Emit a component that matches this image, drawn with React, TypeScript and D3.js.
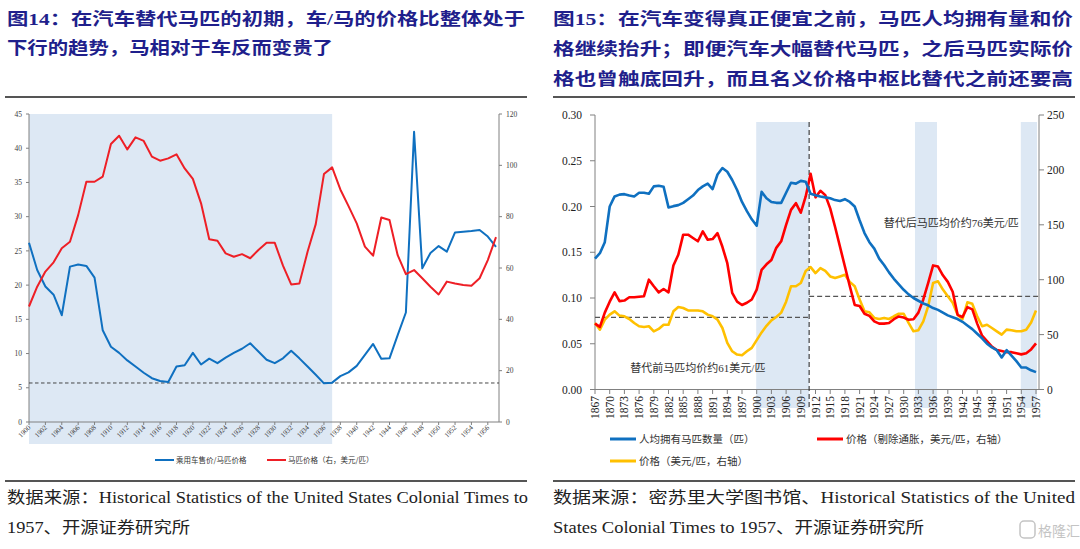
import * as d3 from 'd3'
import { useEffect, useRef } from 'react'

// ---- figure 14: car / horse price ratio, 1900-1957
const carYears = d3.range(1900, 1958)
const carHorseRatio = [
  26.2, 22.2, 19.8, 18.6, 15.6, 22.7, 23.0, 22.8, 21.1, 13.4,
  11.0, 10.1, 9.0, 8.1, 7.2, 6.4, 6.0, 5.85, 8.1, 8.3,
  10.1, 8.4, 9.25, 8.6, 9.4, 10.1, 10.7, 11.5, 10.3, 9.1,
  8.6, 9.3, 10.4, 9.3, 8.1, 6.9, 5.65, 5.75, 6.7, 7.25,
  8.2, 9.8, 11.4, 9.25, 9.3, 12.7, 16.0, 42.4, 22.45, 24.7,
  25.7, 24.9, 27.7, 27.8, 27.9, 28.05, 27.1, 25.6,
]
const horsePrice = [
  45, 52.7, 58.6, 62.2, 67.7, 70.2, 80.6, 93.6, 93.6, 95.6,
  108.3, 111.5, 106.2, 110.9, 109.5, 103.4, 101.8, 102.7, 104.3, 98.8,
  94.7, 85.2, 71.2, 70.6, 65.7, 64.4, 65.4, 63.8, 67, 69.8,
  69.8, 60.9, 53.6, 54, 66.3, 77.1, 96.6, 99.2, 90.6, 84.1,
  77.4, 68.3, 64.8, 79.7, 78.7, 65, 57.6, 59.2, 56, 52.7,
  49.7, 54.7, 54, 53.4, 53.1, 56, 63.1, 72,
]
const carYearTicks = d3.range(1900, 1957, 2)
const ratioTicks = [0, 5, 10, 15, 20, 25, 30, 35, 40, 45]
const horsePriceTicks = [0, 20, 40, 60, 80, 100, 120]
const ratioFloor = 5.7
const carShade = [1900, 1937]
const carLegend = ['乘用车售价/马匹价格', '马匹价格（右，美元/匹）']

// ---- figure 15: horses per capita and horse prices, 1867-1957
const horseYears = d3.range(1867, 1958)
const horsesPerCapita = [
  0.143, 0.149, 0.161, 0.200, 0.211, 0.213, 0.2135, 0.212, 0.211, 0.215,
  0.215, 0.214, 0.222, 0.2226, 0.2216, 0.199, 0.2004, 0.2015, 0.204, 0.208,
  0.212, 0.218, 0.222, 0.225, 0.219, 0.235, 0.242, 0.238, 0.229, 0.218,
  0.205, 0.195, 0.186, 0.179, 0.216, 0.209, 0.205, 0.204, 0.204, 0.215,
  0.226, 0.225, 0.228, 0.227, 0.214, 0.2124, 0.211, 0.210, 0.209, 0.207,
  0.206, 0.208, 0.205, 0.200, 0.185, 0.171, 0.161, 0.154, 0.143, 0.136,
  0.128, 0.121, 0.115, 0.109, 0.104, 0.100, 0.097, 0.094, 0.092, 0.089,
  0.087, 0.084, 0.081, 0.079, 0.077, 0.074, 0.070, 0.066, 0.061, 0.056,
  0.050, 0.046, 0.043, 0.035, 0.043, 0.037, 0.031, 0.024, 0.024, 0.021,
  0.019,
]
const realPrice = [
  60, 57, 70, 80, 88.5, 80.5, 81, 84, 84, 84.5,
  85, 100, 94, 88.5, 91.5, 88.5, 113, 122.7, 141, 141,
  138, 135, 144, 136.4, 137, 142.4, 130, 115, 88, 80,
  77, 79, 82, 91, 109, 114, 118, 129, 135, 150,
  163.6, 169.7, 161, 175.8, 196.4, 175, 181, 177, 165, 148,
  130, 112, 94, 77, 76, 69, 67, 62, 60, 60,
  60.5, 64, 66.5, 65.5, 63.5, 64, 70, 82, 97, 113,
  112, 104, 98, 89, 68, 66, 75, 73, 60, 49,
  44, 39, 36, 35, 34, 34, 33, 32, 33, 36.5,
  42,
]
const nominalPrice = [
  60.6, 54.5, 63.6, 68.2, 71.2, 67.3, 66.7, 64.2, 60.6, 57.6,
  57, 57.6, 53, 55.2, 59, 59, 71.2, 75.2, 74.2, 72,
  72, 72, 71.2, 68.2, 66.7, 63.6, 56, 42.4, 34.8, 31.8,
  31.2, 34.8, 37.9, 45, 52, 58, 63, 66, 70, 80,
  94, 94, 97, 108, 111.5, 106, 110.6, 108, 103, 101.5,
  103, 104.5, 98, 94, 82, 71.2, 70.3, 65.2, 64.2, 65.2,
  64.2, 66.7, 69, 69, 60.6, 53, 54, 62, 76, 97,
  98.5, 91, 85, 79, 68, 64, 79.4, 78, 66.7, 57.6,
  59, 56, 53, 50, 54.5, 54, 53, 53, 54.5, 61,
  72,
]
const horseYearTicks = d3.range(1867, 1958, 3)
const perCapitaTicks = [0, 0.05, 0.1, 0.15, 0.2, 0.25, 0.3]
const priceTicks = [0, 50, 100, 150, 200, 250]
const shadePeriods = [[1899.9, 1910.7], [1932.3, 1936.8], [1953.9, 1957.2]]
const substitutionYear = 1910.7
const avgBefore = 65.7
const avgAfter = 84.8
const notes = ['替代前马匹均价约61美元/匹', '替代后马匹均价约76美元/匹']
const horseLegend = ['人均拥有马匹数量（匹）', '价格（剔除通胀，美元/匹，右轴）', '价格（美元/匹，右轴）']

const titles14 = ['图14：在汽车替代马匹的初期，车/马的价格比整体处于', '下行的趋势，马相对于车反而变贵了']
const titles15 = ['图15：在汽车变得真正便宜之前，马匹人均拥有量和价', '格继续抬升；即便汽车大幅替代马匹，之后马匹实际价', '格也曾触底回升，而且名义价格中枢比替代之前还要高']
const source14 = ['数据来源：Historical Statistics of the United States Colonial Times to', '1957、开源证券研究所']
const source15 = ['数据来源：密苏里大学图书馆、Historical Statistics of the United', 'States Colonial Times to 1957、开源证券研究所']

const BLUE = '#0f70c0'
const RED = '#ee1f26'
const RED2 = '#ff0000'
const YELLOW = '#ffc000'
const SHADE = '#dde8f4'
const NAVY = '#1f1f8c'
const SERIF = '"Liberation Serif", "Noto Sans CJK SC", serif'
const CJK = '"Noto Sans CJK SC", sans-serif'

export default function App(){
  const svgRef = useRef<SVGSVGElement|null>(null)

  useEffect(()=>{
    const svg = d3.select(svgRef.current)
    svg.selectAll('*').remove()
    svg.append('rect').attr('width', 1080).attr('height', 549).attr('fill', '#fff')

    // titles, rules and sources
    const textLine = (s: string, x: number, y: number, len: number, size: number, fill: string, weight = 'normal') =>
      svg.append('text').attr('x', x).attr('y', y).attr('font-size', size).attr('font-family', SERIF)
        .attr('font-weight', weight).attr('fill', fill)
        .attr('textLength', len).attr('lengthAdjust', 'spacingAndGlyphs').text(s)

    textLine(titles14[0], 7, 25, 518, 17.5, NAVY, 'bold')
    textLine(titles14[1], 7, 54, 326, 17.5, NAVY, 'bold')
    titles15.forEach((t, i)=> textLine(t, 553, 25 + i*30, 520, 17.5, NAVY, 'bold'))
    textLine(source14[0], 7, 503, 521, 16, '#222')
    textLine(source14[1], 7, 533, 183, 16, '#222')
    textLine(source15[0], 553, 503, 522, 16, '#222')
    textLine(source15[1], 553, 533, 371, 16, '#222')

    for(const [x0, x1] of [[5, 527], [553, 1075]]){
      svg.append('line').attr('x1', x0).attr('x2', x1).attr('y1', 97).attr('y2', 97).attr('stroke', '#555').attr('stroke-width', 2)
      svg.append('line').attr('x1', x0).attr('x2', x1).attr('y1', 481).attr('y2', 481).attr('stroke', '#555').attr('stroke-width', 2)
    }

    // ---------- figure 14
    const g1 = svg.append('g')
    const x1 = d3.scaleLinear().domain([1900, 1957]).range([29, 496])
    const yl1 = d3.scaleLinear().domain([0, 45]).range([422, 114])
    const yr1 = d3.scaleLinear().domain([0, 120]).range([422, 114])

    g1.append('rect').attr('x', x1(carShade[0])).attr('y', 114)
      .attr('width', x1(carShade[1]) - x1(carShade[0])).attr('height', 444 - 114).attr('fill', SHADE)

    const axisColor = '#808080'
    g1.append('line').attr('x1', 29).attr('x2', 29).attr('y1', 114).attr('y2', 422).attr('stroke', axisColor)
    g1.append('line').attr('x1', 499).attr('x2', 499).attr('y1', 114).attr('y2', 422).attr('stroke', axisColor)
    g1.append('line').attr('x1', 29).attr('x2', 499).attr('y1', 422).attr('y2', 422).attr('stroke', axisColor)

    ratioTicks.forEach(v=>{
      g1.append('line').attr('x1', 26).attr('x2', 29).attr('y1', yl1(v)).attr('y2', yl1(v)).attr('stroke', axisColor)
      g1.append('text').attr('x', 22).attr('y', yl1(v)).attr('dy', '0.35em').attr('text-anchor', 'end')
        .attr('font-size', 7.5).attr('font-family', SERIF).attr('fill', '#404040').text(v)
    })
    horsePriceTicks.forEach(v=>{
      g1.append('line').attr('x1', 499).attr('x2', 502).attr('y1', yr1(v)).attr('y2', yr1(v)).attr('stroke', axisColor)
      g1.append('text').attr('x', 506).attr('y', yr1(v)).attr('dy', '0.35em')
        .attr('font-size', 7.5).attr('font-family', SERIF).attr('fill', '#404040').text(v)
    })
    carYearTicks.forEach(yr=>{
      g1.append('line').attr('x1', x1(yr)).attr('x2', x1(yr)).attr('y1', 422).attr('y2', 425).attr('stroke', axisColor)
      g1.append('text').attr('transform', `translate(${x1(yr)+2},${428}) rotate(-45)`).attr('text-anchor', 'end')
        .attr('font-size', 7).attr('font-family', SERIF).attr('fill', '#404040').text(yr)
    })

    g1.append('line').attr('x1', 29).attr('x2', 499).attr('y1', yl1(ratioFloor)).attr('y2', yl1(ratioFloor))
      .attr('stroke', '#333').attr('stroke-width', 0.9).attr('stroke-dasharray', '3.5,2.5')

    const line1L = d3.line<number>().x((_, i)=> x1(carYears[i])).y(d=> yl1(d))
    const line1R = d3.line<number>().x((_, i)=> x1(carYears[i])).y(d=> yr1(d))
    g1.append('path').attr('d', line1L(carHorseRatio)).attr('fill', 'none').attr('stroke', BLUE).attr('stroke-width', 2).attr('stroke-linejoin', 'round')
    g1.append('path').attr('d', line1R(horsePrice)).attr('fill', 'none').attr('stroke', RED).attr('stroke-width', 2).attr('stroke-linejoin', 'round')

    const leg1 = [{ x: 155, c: BLUE, t: carLegend[0] }, { x: 267, c: RED, t: carLegend[1] }]
    leg1.forEach(l=>{
      g1.append('line').attr('x1', l.x).attr('x2', l.x + 19).attr('y1', 460).attr('y2', 460).attr('stroke', l.c).attr('stroke-width', 2)
      g1.append('text').attr('x', l.x + 21).attr('y', 460).attr('dy', '0.35em').attr('font-size', 7.5)
        .attr('font-family', CJK).attr('fill', '#333').text(l.t)
    })

    // ---------- figure 15
    const g2 = svg.append('g')
    const x2 = d3.scaleLinear().domain([1867, 1957]).range([595, 1036])
    const yl2 = d3.scaleLinear().domain([0, 0.3]).range([389.5, 115])
    const yr2 = d3.scaleLinear().domain([0, 250]).range([389.5, 115])

    shadePeriods.forEach(([a, b])=>{
      g2.append('rect').attr('x', x2(a)).attr('y', 122).attr('width', x2(b) - x2(a)).attr('height', 408 - 122).attr('fill', SHADE)
    })

    g2.append('line').attr('x1', 595).attr('x2', 595).attr('y1', 115).attr('y2', 389.5).attr('stroke', axisColor)
    g2.append('line').attr('x1', 1039).attr('x2', 1039).attr('y1', 115).attr('y2', 389.5).attr('stroke', axisColor)
    g2.append('line').attr('x1', 595).attr('x2', 1039).attr('y1', 389.5).attr('y2', 389.5).attr('stroke', axisColor)

    perCapitaTicks.forEach(v=>{
      g2.append('line').attr('x1', 590).attr('x2', 595).attr('y1', yl2(v)).attr('y2', yl2(v)).attr('stroke', axisColor)
      g2.append('text').attr('x', 582).attr('y', yl2(v)).attr('dy', '0.35em').attr('text-anchor', 'end')
        .attr('font-size', 11.5).attr('font-family', SERIF).attr('fill', '#222').text(d3.format('.2f')(v))
    })
    priceTicks.forEach(v=>{
      g2.append('line').attr('x1', 1039).attr('x2', 1044).attr('y1', yr2(v)).attr('y2', yr2(v)).attr('stroke', axisColor)
      g2.append('text').attr('x', 1047).attr('y', yr2(v)).attr('dy', '0.35em')
        .attr('font-size', 11.5).attr('font-family', SERIF).attr('fill', '#222').text(v)
    })
    horseYearTicks.forEach(yr=>{
      g2.append('line').attr('x1', x2(yr)).attr('x2', x2(yr)).attr('y1', 389.5).attr('y2', 394).attr('stroke', axisColor)
      g2.append('text').attr('transform', `translate(${x2(yr)},${396}) rotate(-90)`).attr('dy', '0.35em').attr('text-anchor', 'end')
        .attr('font-size', 11.5).attr('font-family', SERIF).attr('fill', '#222').text(yr)
    })

    const dash = '5,3'
    g2.append('line').attr('x1', x2(substitutionYear)).attr('x2', x2(substitutionYear)).attr('y1', 122).attr('y2', 408)
      .attr('stroke', '#333').attr('stroke-width', 1.1).attr('stroke-dasharray', dash)
    g2.append('line').attr('x1', 595).attr('x2', x2(substitutionYear)).attr('y1', yr2(avgBefore)).attr('y2', yr2(avgBefore))
      .attr('stroke', '#555').attr('stroke-width', 1.1).attr('stroke-dasharray', dash)
    g2.append('line').attr('x1', x2(substitutionYear)).attr('x2', 1039).attr('y1', yr2(avgAfter)).attr('y2', yr2(avgAfter))
      .attr('stroke', '#555').attr('stroke-width', 1.1).attr('stroke-dasharray', dash)

    const line2L = d3.line<number>().x((_, i)=> x2(horseYears[i])).y(d=> yl2(d))
    const line2R = d3.line<number>().x((_, i)=> x2(horseYears[i])).y(d=> yr2(d))
    g2.append('path').attr('d', line2R(nominalPrice)).attr('fill', 'none').attr('stroke', YELLOW).attr('stroke-width', 2.6).attr('stroke-linejoin', 'round')
    g2.append('path').attr('d', line2R(realPrice)).attr('fill', 'none').attr('stroke', RED2).attr('stroke-width', 2.6).attr('stroke-linejoin', 'round')
    g2.append('path').attr('d', line2L(horsesPerCapita)).attr('fill', 'none').attr('stroke', BLUE).attr('stroke-width', 2.6).attr('stroke-linejoin', 'round')

    g2.append('text').attr('x', x2(1888)).attr('y', yr2(15.5)).attr('text-anchor', 'middle')
      .attr('font-size', 11).attr('font-family', SERIF).attr('fill', '#333').text(notes[0])
    g2.append('text').attr('x', x2(1939.7)).attr('y', yr2(148)).attr('text-anchor', 'middle')
      .attr('font-size', 11).attr('font-family', SERIF).attr('fill', '#333').text(notes[1])

    const leg2 = [
      { x: 610, y: 439, c: BLUE, t: horseLegend[0] },
      { x: 817, y: 439, c: RED2, t: horseLegend[1] },
      { x: 610, y: 461, c: YELLOW, t: horseLegend[2] },
    ]
    leg2.forEach(l=>{
      g2.append('line').attr('x1', l.x).attr('x2', l.x + 26).attr('y1', l.y).attr('y2', l.y).attr('stroke', l.c).attr('stroke-width', 3)
      g2.append('text').attr('x', l.x + 29).attr('y', l.y).attr('dy', '0.35em').attr('font-size', 10.5)
        .attr('font-family', CJK).attr('fill', '#333').text(l.t)
    })

    // watermark
    svg.append('rect').attr('x', 1020).attr('y', 521).attr('width', 15).attr('height', 17).attr('rx', 4)
      .attr('fill', 'none').attr('stroke', '#c4c4c4').attr('stroke-width', 1.5)
    svg.append('text').attr('x', 1038).attr('y', 536).attr('font-size', 14).attr('font-family', CJK)
      .attr('fill', '#c4c4c4').text('格隆汇')
  }, [])

  return (
    <svg ref={svgRef} width={1080} height={549} style={{ position: 'absolute', left: 0, top: 0 }}></svg>
  )
}
